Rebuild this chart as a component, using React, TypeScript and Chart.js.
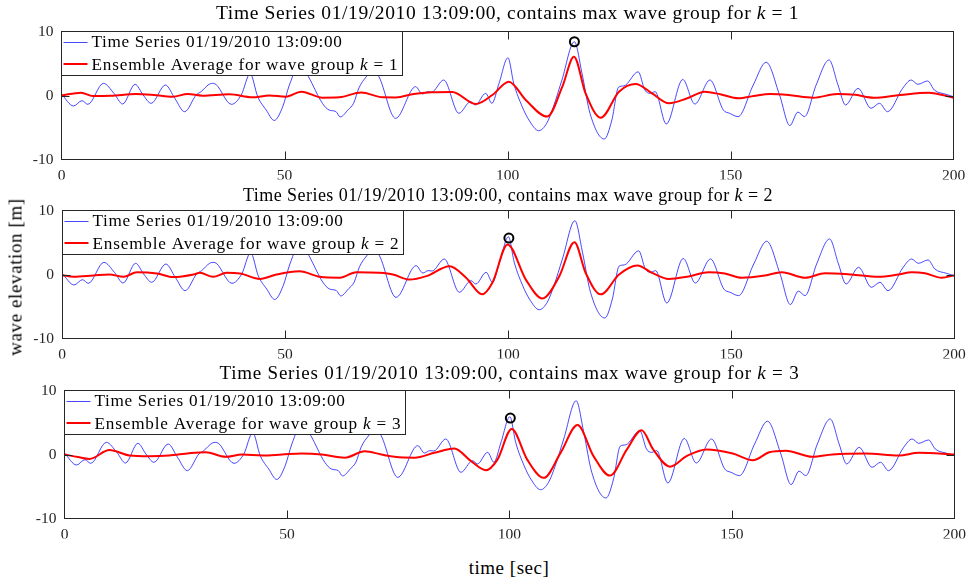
import React, { useEffect, useRef } from "react";
import { Chart, registerables } from "chart.js";

Chart.register(...registerables);

// ---------------- data ----------------
const X_TICKS = [0, 50, 100, 150, 200];
const Y_TICKS = [-10, 0, 10];
const X_TICK_LABELS = ["0", "50", "100", "150", "200"];
const Y_TICK_LABELS = ["-10", "0", "10"];

const GROUP_K = [1, 2, 3];
const TITLE_PREFIX = "Time Series 01/19/2010 13:09:00, contains max wave group for ";
const LEGEND_BLUE = "Time Series 01/19/2010 13:09:00";
const LEGEND_RED_PREFIX = "Ensemble Average for wave group ";
const Y_LABEL = "wave elevation [m]";
const X_LABEL = "time [sec]";

// measured time series (same in every panel)
const BLUE_T = [0, 2.7, 4.6, 5.9, 9.4, 11.8, 13.7, 16.5, 18.3, 20.1,
  23.3, 25.4, 27.6, 30.2, 31.3, 33.1, 34.1, 38.1, 40.3, 42.3,
  44.0, 45.9, 47.7, 49.6, 51.1, 53.5, 55.4, 58.5, 60.0, 61.5,
  62.5, 64.3, 65.5, 66.7, 68.3, 69.9, 71.2, 74.9, 79.4, 80.9,
  82.1, 83.0, 85.7, 89.1, 91.7, 92.8, 95.1, 96.5, 98.1, 100.1,
  101.4, 103.3, 104.8, 107.0, 108.8, 110.3, 112.2, 115.0, 116.7, 118.5,
  121.7, 123.4, 124.9, 126.1, 129.3, 130.8, 132.0, 133.1, 135.6, 139.3,
  142.0, 145.4, 148.4, 149.8, 151.7, 155.1, 158.0, 161.0, 163.3, 165.1,
  166.6, 169.2, 172.1, 174.1, 175.8, 178.6, 181.5, 183.4, 185.2, 188.6,
  190.5, 192.0, 194.2, 195.7, 198.3, 200];
const BLUE_V = [0.2, -1.64, -0.81, -1.38, 1.9, 0.3, -1.33, 1.75, 0.08, -1.22,
  1.64, -0.44, -2.53, 0.08, 0.6, 1.75, 1.9, -1.38, 0.08, 3.4,
  -0.2, -2.27, -3.9, -1.75, 1.64, 5.0, 2.9, -1.22, -2.27, -2.5,
  -3.35, -2.2, -1.2, 1.2, 2.9, 4.0, 2.9, -3.57, 1.38, 0.23,
  0.6, 0.55, 2.42, -2.78, -0.97, -1.48, 0.34, -1.22, 1.9, 5.9,
  1.9, -1.75, -3.83, -5.5, -4.34, -1.75, 2.42, 8.4, 3.47, -2.78,
  -6.8, -3.83, 1.3, 1.5, 3.7, 0.86, 0.34, 0.6, -4.45, 2.5,
  -1.33, 2.42, -2.27, -2.78, -3.3, 1.64, 5.2, 0.08, -4.7, -2.6,
  -3.3, 1.64, 5.55, 1.64, -1.48, 1.12, -2.0, -1.22, -2.53, 1.12,
  2.42, 1.75, 2.27, 0.86, 0.19, -0.19];

// ensemble average, k = 1
const RED1_T = [0, 4.4, 7, 11, 16.7, 20.7, 24.9, 28.3, 31.6, 37.6,
  42.8, 46.6, 50.3, 53.8, 58.5, 62.3, 67.2, 72, 75, 79,
  83, 87.6, 92.9, 96.6, 100.3, 104.1, 108.9, 112.3, 114.9, 117.5,
  120.9, 125, 128.7, 132.4, 136.2, 140.3, 144.2, 147.7, 151.8, 155.2,
  158.9, 163, 168.6, 173.9, 178, 182.1, 188, 194.4, 200];
const RED1_V = [0, 0.44, -0.08, -0.05, 0.23, 0.08, -0.19, 0.23, -0.03, 0.19,
  -0.28, 0, -0.19, 0.6, -0.34, -0.28, 0.47, -0.28, -0.3, 0.25,
  0.5, 0.55, -1.33, 0.08, 2.16, -0.7, -3.3, 1.38, 6.06, 0.34,
  -3.47, 0.6, 1.8, 0.34, -1.22, -0.44, 0.6, 0.19, -0.44, -0.08,
  0.23, 0.08, -0.34, 0.23, 0.1, -0.34, 0.08, 0.44, -0.34];

// ensemble average, k = 2
const RED2_T = [0, 2.6, 7.1, 10.6, 13.8, 16.8, 21.3, 25, 29.5, 30.9,
  33.9, 36.9, 39.9, 44.4, 48.1, 53.3, 57.8, 62.3, 66, 71.2,
  74.2, 77.9, 81.7, 86.9, 90.6, 94.2, 96.5, 99.9, 104, 107.7,
  111.5, 114.9, 117.4, 120.8, 124.9, 129, 132.3, 136, 140.5, 145,
  148.6, 152.4, 157.6, 161.4, 166.6, 171.1, 177, 183, 187.5, 190.5,
  193.5, 197.2, 200];
const RED2_V = [-0.1, -0.36, -0.15, 0, -0.36, 0.36, 0.16, -0.4, 0, 0.26,
  -0.36, 0.26, 0.16, -0.7, 0, 0.5, -0.36, -0.5, 0.36, 0.26,
  0, -0.8, -0.26, 1.3, -0.5, -3.1, -1.3, 4.7, -0.8, -3.75,
  -0.26, 5.05, 0.26, -3.1, 0, 1.4, 0.26, -0.7, -0.3, 0.36,
  0.16, -0.5, -0.15, 0.36, -0.5, 0.2, 0, -0.36, 0, 0.36,
  0.2, -0.5, -0.15];

// ensemble average, k = 3
const RED3_T = [0, 3, 5.6, 10.1, 14.6, 19, 23.5, 28, 31.7, 36.2,
  39.9, 44.5, 48.9, 53.3, 57.8, 63, 67.5, 71.2, 74.2, 78.7,
  83.1, 87.6, 91.3, 94.7, 97.3, 100.5, 104, 107.7, 111.5, 115.3,
  118.9, 122.6, 126.4, 129.7, 132.3, 136.1, 139.8, 144.3, 150.2, 154.7,
  158.4, 162.1, 168.1, 172.6, 180, 187.5, 192, 200];
const RED3_V = [0, -0.4, -0.7, 0.7, -0.15, -0.26, -0.15, 0.2, 0.36, -0.36,
  0, -0.15, 0, 0.15, 0, -0.5, 0.5, 0, -0.36, -0.5,
  0.26, 0.94, -1.0, -2.45, -0.8, 4.0, -0.8, -3.65, 0.26, 4.6,
  -0.26, -3.3, 0.8, 3.8, 0.8, -1.9, -0.26, 0.8, 0.15, -0.9,
  0.36, 0.6, -0.36, 0, 0.15, -0.15, 0.26, 0];

// max crest markers
const MARK_T = [115.0, 100.2, 100.2];
const MARK_V = [8.4, 5.7, 5.7];

const RED_T = [RED1_T, RED2_T, RED3_T];
const RED_V = [RED1_V, RED2_V, RED3_V];

// ---------------- styles ----------------
const FAMILY = '"Liberation Serif", "Times New Roman", serif';
const AXIS_COLOR = "#262626";
const BLUE = "rgba(0,0,255,0.72)";
const RED = "#ff0000";

const PANEL_STYLE = [
  { top: 0, left: 61.5, right: 953.5, titleSize: 19.5, titleWidth: 583, titleGap: 13 },
  { top: 179, left: 62, right: 954, titleSize: 18, titleWidth: 530, titleGap: 9.5 },
  { top: 359, left: 64.5, right: 956.5, titleSize: 19, titleWidth: 580, titleGap: 12 },
];
const CANVAS_W = 973;
const CANVAS_H = 180;

type Seg = { text: string; italic?: boolean };

function fontStr(size: number, italic?: boolean) {
  return `${italic ? "italic " : ""}${size}px ${FAMILY}`;
}

function drawRich(ctx: CanvasRenderingContext2D, segs: Seg[], x: number, y: number,
  size: number, target: number, align: "left" | "center") {
  const c: any = ctx;
  c.letterSpacing = "0px";
  let natural = 0;
  let n = 0;
  const widths = segs.map((s) => {
    ctx.font = fontStr(size, s.italic);
    const w = ctx.measureText(s.text).width;
    natural += w;
    n += s.text.length;
    return w;
  });
  const ls = target > 0 && n > 0 ? (target - natural) / n : 0;
  const total = natural + ls * n;
  let cx = align === "center" ? x - total / 2 : x;
  ctx.textAlign = "left";
  ctx.textBaseline = "alphabetic";
  segs.forEach((s, i) => {
    ctx.font = fontStr(size, s.italic);
    c.letterSpacing = `${ls}px`;
    ctx.fillText(s.text, cx, y);
    cx += widths[i] + ls * s.text.length;
  });
  c.letterSpacing = "0px";
}

function panelPlugin(i: number) {
  const st = PANEL_STYLE[i];
  const k = GROUP_K[i];
  return {
    id: "panelDecor" + i,
    afterDatasetsDraw(chart: any) {
      const { ctx, chartArea: a, scales } = chart;
      const L = Math.floor(a.left) + 0.5;
      const R = Math.floor(a.right) + 0.5;
      const T = Math.floor(a.top) + 0.5;
      const B = Math.floor(a.bottom) + 0.5;
      ctx.save();
      ctx.strokeStyle = AXIS_COLOR;
      ctx.lineWidth = 1;
      ctx.strokeRect(L, T, R - L, B - T);
      ctx.beginPath();
      X_TICKS.forEach((v, j) => {
        if (j === 0 || j === X_TICKS.length - 1) return;
        const px = Math.round(scales.x.getPixelForValue(v)) + 0.5;
        ctx.moveTo(px, B); ctx.lineTo(px, B - 8);
        ctx.moveTo(px, T); ctx.lineTo(px, T + 8);
      });
      Y_TICKS.forEach((v, j) => {
        if (j === 0 || j === Y_TICKS.length - 1) return;
        const py = Math.round(scales.y.getPixelForValue(v)) + 0.5;
        ctx.moveTo(L, py); ctx.lineTo(L + 8, py);
        ctx.moveTo(R, py); ctx.lineTo(R - 8, py);
      });
      ctx.stroke();
      ctx.restore();
    },
    afterDraw(chart: any) {
      const { ctx, chartArea: a } = chart;
      ctx.save();
      // legend
      const lx = Math.floor(a.left) + 0.5;
      const ly = Math.floor(a.top) + 0.5;
      ctx.fillStyle = "#ffffff";
      ctx.fillRect(lx, ly, 341, 44);
      ctx.strokeStyle = AXIS_COLOR;
      ctx.lineWidth = 1;
      ctx.strokeRect(lx, ly, 341, 44);
      ctx.beginPath();
      ctx.strokeStyle = BLUE;
      ctx.lineWidth = 1;
      ctx.moveTo(lx + 2, ly + 11); ctx.lineTo(lx + 26, ly + 11);
      ctx.stroke();
      ctx.beginPath();
      ctx.strokeStyle = RED;
      ctx.lineWidth = 2;
      ctx.moveTo(lx + 2, ly + 32.5); ctx.lineTo(lx + 26, ly + 32.5);
      ctx.stroke();
      ctx.fillStyle = "#000";
      drawRich(ctx, [{ text: LEGEND_BLUE }], lx + 30, ly + 15.5, 17.2, 251, "left");
      drawRich(ctx, [{ text: LEGEND_RED_PREFIX }, { text: "k", italic: true }, { text: " = " + k }],
        lx + 30, ly + 38, 17.2, 307, "left");
      // title
      drawRich(ctx, [{ text: TITLE_PREFIX }, { text: "k", italic: true }, { text: " = " + k }],
        (a.left + a.right) / 2, a.top - st.titleGap, st.titleSize, st.titleWidth, "center");
      ctx.restore();
    },
  };
}

function makeChart(canvas: HTMLCanvasElement, i: number) {
  const st = PANEL_STYLE[i];
  const blue = BLUE_T.map((t, j) => ({ x: t, y: BLUE_V[j] }));
  const red = RED_T[i].map((t, j) => ({ x: t, y: RED_V[i][j] }));
  const mark = [{ x: MARK_T[i], y: MARK_V[i] }];
  const tickFont = { family: FAMILY, size: 15.5 };
  return new Chart(canvas, {
    type: "line",
    data: {
      datasets: [
        {
          data: mark, showLine: false, pointRadius: 4.5, pointBorderWidth: 2,
          pointBorderColor: "#000", pointBackgroundColor: "rgba(0,0,0,0)", order: 0,
        } as any,
        {
          data: red, borderColor: RED, borderWidth: 2, pointRadius: 0,
          cubicInterpolationMode: "monotone", fill: false, order: 1,
        },
        {
          data: blue, borderColor: BLUE, borderWidth: 1, pointRadius: 0,
          cubicInterpolationMode: "monotone", fill: false, order: 2,
        },
      ],
    },
    options: {
      animation: false,
      responsive: false,
      events: [],
      layout: { padding: { left: 0, right: CANVAS_W - st.right, top: 31.5, bottom: 0.5 } },
      plugins: { legend: { display: false }, title: { display: false }, tooltip: { enabled: false } },
      scales: {
        x: {
          type: "linear", min: 0, max: 200,
          afterBuildTicks: (s: any) => { s.ticks = X_TICKS.map((v) => ({ value: v })); },
          afterFit: (s: any) => { s.height = 20; },
          grid: { display: false, drawTicks: false },
          border: { display: false },
          ticks: {
            font: tickFont, color: AXIS_COLOR, padding: 7, maxRotation: 0, autoSkip: false,
            callback: (v: any) => X_TICK_LABELS[X_TICKS.indexOf(Number(v))] ?? "",
          },
        },
        y: {
          type: "linear", min: -10, max: 10,
          afterBuildTicks: (s: any) => { s.ticks = Y_TICKS.map((v) => ({ value: v })); },
          afterFit: (s: any) => { s.width = st.left; },
          grid: { display: false, drawTicks: false },
          border: { display: false },
          ticks: {
            font: tickFont, color: AXIS_COLOR, padding: 8, autoSkip: false,
            callback: (v: any) => Y_TICK_LABELS[Y_TICKS.indexOf(Number(v))] ?? "",
          },
        },
      },
    } as any,
    plugins: [panelPlugin(i)],
  });
}

export default function App() {
  const r0 = useRef<HTMLCanvasElement>(null);
  const r1 = useRef<HTMLCanvasElement>(null);
  const r2 = useRef<HTMLCanvasElement>(null);
  useEffect(() => {
    const refs = [r0, r1, r2];
    const charts = refs.map((r, i) => (r.current ? makeChart(r.current, i) : null));
    return () => charts.forEach((c) => c && c.destroy());
  }, []);
  const refs = [r0, r1, r2];
  return (
    <div style={{ position: "absolute", left: 0, top: 0, width: CANVAS_W, height: 580, background: "#fff", overflow: "hidden" }}>
      {PANEL_STYLE.map((p, i) => (
        <canvas key={i} ref={refs[i]} width={CANVAS_W} height={CANVAS_H}
          style={{ position: "absolute", left: 0, top: p.top, width: CANVAS_W, height: CANVAS_H }} />
      ))}
      <div style={{
        position: "absolute", left: 15, top: 277, transform: "translate(-50%, -50%) rotate(-90deg)",
        fontFamily: FAMILY, fontSize: 19, letterSpacing: "0.6px", whiteSpace: "nowrap", color: "#000", lineHeight: 1,
      }}>{Y_LABEL}</div>
      <div style={{
        position: "absolute", left: 509, top: 567, transform: "translate(-50%, -50%)",
        fontFamily: FAMILY, fontSize: 19, letterSpacing: "0.5px", whiteSpace: "nowrap", color: "#000", lineHeight: 1,
      }}>{X_LABEL}</div>
    </div>
  );
}
